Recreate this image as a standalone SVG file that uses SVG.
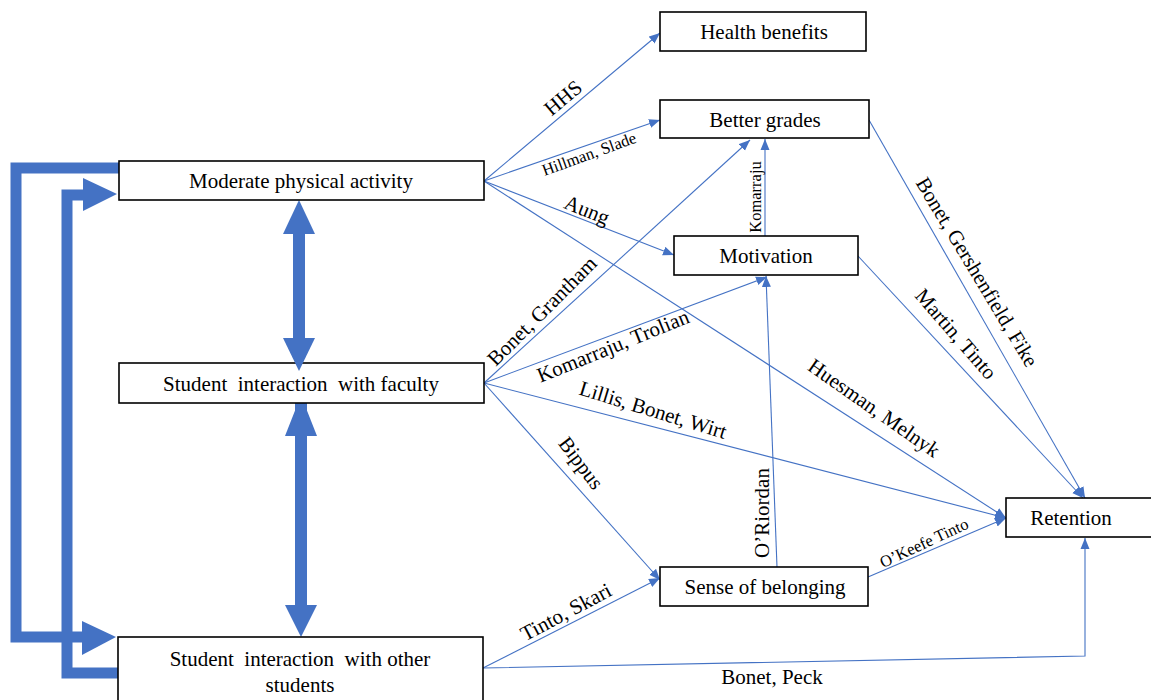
<svg xmlns="http://www.w3.org/2000/svg" width="1151" height="700" viewBox="0 0 1151 700">
<style>
.box{fill:#fff;stroke:#000;stroke-width:1.6}
.bt{font-family:'Liberation Serif','Times New Roman','DejaVu Serif',serif;font-size:21px;fill:#000;text-anchor:middle;dominant-baseline:central;white-space:pre}
.lbl{font-family:'Liberation Serif','Times New Roman','DejaVu Serif',serif;font-size:21px;fill:#000;text-anchor:middle;dominant-baseline:central;white-space:pre}
.sm{font-size:16.5px}
.thin{fill:none;stroke:#4472C4;stroke-width:1.1;marker-end:url(#ah)}
.thick{fill:none;stroke:#4472C4;stroke-width:11;stroke-linejoin:miter}
.fillb{fill:#4472C4;stroke:none}
</style>
<defs>
<marker id="ah" markerUnits="userSpaceOnUse" markerWidth="12" markerHeight="10" refX="11" refY="5" orient="auto">
<path d="M0,0.5 L11,5 L0,9.5 z" fill="#4472C4"/>
</marker>
</defs>

<g id="connectors">
<line class="thin" x1="484" y1="181" x2="660" y2="33"/>
<line class="thin" x1="484" y1="181" x2="660" y2="120"/>
<line class="thin" x1="484" y1="181" x2="674" y2="255"/>
<line class="thin" x1="484" y1="181" x2="1006" y2="518"/>
<line class="thin" x1="484" y1="383" x2="750" y2="140"/>
<line class="thin" x1="484" y1="383" x2="767" y2="277"/>
<line class="thin" x1="484" y1="383" x2="1006" y2="518"/>
<line class="thin" x1="484" y1="383" x2="660" y2="580"/>
<line class="thin" x1="869" y1="120" x2="1085" y2="498"/>
<line class="thin" x1="858" y1="256" x2="1083" y2="498"/>
<line class="thin" x1="765" y1="236" x2="765" y2="139"/>
<line class="thin" x1="777" y1="567" x2="766" y2="276"/>
<line class="thin" x1="868" y1="577" x2="1006" y2="518"/>
<line class="thin" x1="483" y1="668" x2="660" y2="578"/>
<polyline class="thin" points="483,668 1085,656 1085,538"/>

<path class="thick" d="M119,168 H16 V637 H86"/>
<polygon class="fillb" points="82,621 116,637 82,655"/>
<path class="thick" d="M119,673 H67 V195 H86"/>
<polygon class="fillb" points="83,178 117,194 83,211"/>

<rect class="fillb" x="293" y="230" width="12" height="110"/>
<polygon class="fillb" points="283,234 299,200 315,234"/>

<rect class="fillb" x="295" y="403" width="12" height="205"/>
<polygon class="fillb" points="298,403 304,403 317,436 285,436"/>
<polygon class="fillb" points="285,605 301,637 317,605"/>

<text class="lbl" transform="translate(563,98) rotate(-40)">HHS</text>
<text class="lbl sm" transform="translate(589,154) rotate(-20)">Hillman, Slade</text>
<text class="lbl" transform="translate(587,210) rotate(22)">Aung</text>
<text class="lbl" transform="translate(542,311) rotate(-45)">Bonet, Grantham</text>
<text class="lbl" transform="translate(613,346) rotate(-22)">Komarraju, Trolian</text>
<text class="lbl" transform="translate(653,410) rotate(17)">Lillis, Bonet, Wirt</text>
<text class="lbl" transform="translate(581,463) rotate(53)">Bippus</text>
<text class="lbl" transform="translate(874,408) rotate(35)">Huesman, Melnyk</text>
<text class="lbl" transform="translate(956,334) rotate(49)">Martin, Tinto</text>
<text class="lbl" transform="translate(977,272) rotate(59)">Bonet, Gershenfield, Fike</text>
<text class="lbl sm" transform="translate(755,197) rotate(-90)">Komarraju</text>
<text class="lbl" transform="translate(762,513) rotate(-90)">O’Riordan</text>
<text class="lbl sm" transform="translate(924,543) rotate(-25)">O’Keefe Tinto</text>
<text class="lbl" transform="translate(566,612) rotate(-28)">Tinto, Skari</text>
<text class="lbl" x="772" y="677">Bonet, Peck</text>
</g>

<g id="health">
<rect class="box" x="660" y="12" width="206" height="39"/>
<text class="bt" x="764" y="32">Health benefits</text>
</g>
<g id="grades">
<rect class="box" x="660" y="100" width="209" height="38"/>
<text class="bt" x="765" y="120">Better grades</text>
</g>
<g id="moderate">
<rect class="box" x="119" y="161" width="365" height="39"/>
<text class="bt" x="301" y="181">Moderate physical activity</text>
</g>
<g id="motivation">
<rect class="box" x="674" y="236" width="184" height="39"/>
<text class="bt" x="766" y="256">Motivation</text>
</g>
<g id="faculty">
<rect class="box" x="119" y="363" width="365" height="40"/>
<text class="bt" x="301" y="384">Student  interaction  with faculty</text>
</g>
<g id="retention">
<rect class="box" x="1006" y="498" width="150" height="39"/>
<text class="bt" x="1071" y="518">Retention</text>
</g>
<g id="belonging">
<rect class="box" x="660" y="567" width="208" height="39"/>
<text class="bt" x="765" y="587">Sense of belonging</text>
</g>
<g id="peers">
<rect class="box" x="118" y="637" width="365" height="70"/>
<text class="bt" x="300" y="659">Student  interaction  with other</text>
<text class="bt" x="300" y="685">students</text>
</g>
<g id="overlay">
<polygon class="fillb" points="283,338 299,371 315,338"/>
</g>
</svg>
